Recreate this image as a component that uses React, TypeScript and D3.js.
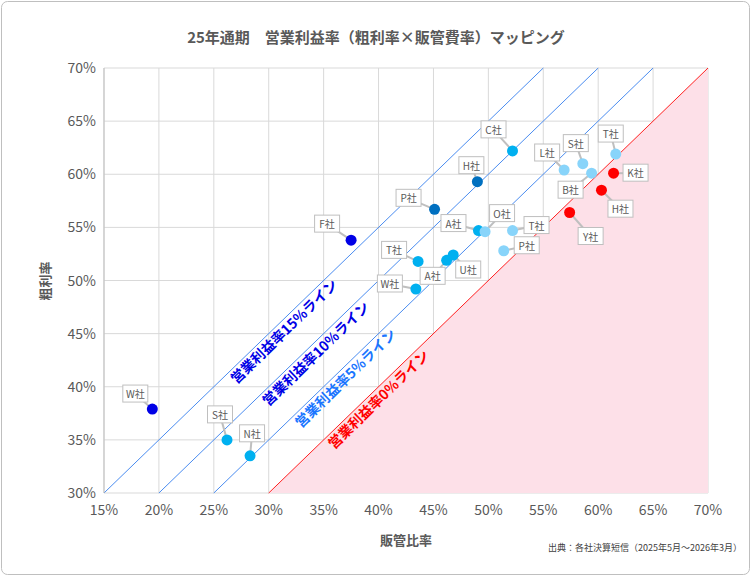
import React from "react";
import * as d3 from "d3";

const names = ["W社","S社","N社","F社","T社","W社","A社","U社","A社","O社","T社","P社","P社","H社","C社","L社","S社","B社","T社","K社","H社","Y社"];
const sga = [19.4,26.2,28.3,37.5,43.6,43.4,46.2,46.8,49.1,49.7,52.2,51.4,45.1,49.0,52.2,56.9,58.6,59.4,61.6,61.4,60.3,57.4];
const gross = [37.9,35.0,33.5,53.8,51.8,49.2,51.9,52.4,54.7,54.6,54.7,52.8,56.7,59.3,62.2,60.4,61.0,60.1,61.9,60.1,58.5,56.4];
const group = [0,2,2,0,2,2,2,2,2,3,3,3,1,1,2,3,3,3,3,4,4,4];
const labelDx = [-17,-7,2,-24,-24,-26,-14,15,-25,17,24,23,-26,-6,-19,-17,-7,-21,-5,22,19,21];
const labelDy = [-15,-25,-22,-16,-11,-5,16,15,-7,-18,-5,-5,-11,-16,-21,-17,-20,17,-20,0,19,24];
const groupColors = ["#0000e6","#0070c0","#00b0f0","#88d4fa","#ff0000"];
const xTicks = [15,20,25,30,35,40,45,50,55,60,65,70];
const yTicks = [30,35,40,45,50,55,60,65,70];
const margins = [15,10,5,0];
const lineColors = ["#4a8cf0","#4a8cf0","#4a8cf0","#ff2020"];
const lineLabels = ["営業利益率15%ライン","営業利益率10%ライン","営業利益率5%ライン","営業利益率0%ライン"];
const lineLabelColors = ["#0000e6","#0000e6","#1a75ff","#ff0000"];
const lineLabelX = [30.8, 33.7, 36.4, 39.4];

export default function App() {
  const x = d3.scaleLinear().domain([15, 70]).range([104, 708]);
  const y = d3.scaleLinear().domain([30, 70]).range([493, 68]);
  const ang = -Math.atan((y(30) - y(31)) / (x(31) - x(30))) * 180 / Math.PI;
  const font = "'Noto Sans CJK JP', 'Noto Sans', sans-serif";
  const pinkPts = [[30,30],[70,70],[70,30]].map(([a,b]) => `${x(a)},${y(b)}`).join(" ");
  return (
    <svg width={752} height={577} style={{ display: "block", position: "absolute", left: 0, top: 0 }} fontFamily={font}>
      <rect x={1.5} y={1.5} width={748} height={573} rx={6} fill="#fff" stroke="#bfbfbf" />
      <text x={376} y={43} textAnchor="middle" fontSize={15} fontWeight="bold" fill="#595959">25年通期　営業利益率（粗利率×販管費率）マッピング</text>
      {xTicks.map(t => <line key={"gx"+t} x1={x(t)} x2={x(t)} y1={y(30)} y2={y(70)} stroke="#d9d9d9" />)}
      {yTicks.map(t => <line key={"gy"+t} x1={x(15)} x2={x(70)} y1={y(t)} y2={y(t)} stroke="#d9d9d9" />)}
      <polygon points={pinkPts} fill="#fde0e8" />
      {xTicks.map(t => <text key={"tx"+t} x={x(t)} y={y(30)+22} textAnchor="middle" fontSize={14} fill="#595959">{t}%</text>)}
      {yTicks.map(t => <text key={"ty"+t} x={x(15)-8} y={y(t)+5} textAnchor="end" fontSize={14} fill="#595959">{t}%</text>)}
      {margins.map((m, i) => (
        <line key={"l"+m} x1={x(15+m < 30 ? 30 - m : 15)} y1={y(15+m < 30 ? 30 : 15+m)} x2={x(70-m)} y2={y(70)} stroke={lineColors[i]} strokeWidth={1} />
      ))}
      {margins.map((m, i) => {
        const lx = lineLabelX[i], ly = lx + m;
        const px = x(lx) + 10, py = y(ly) + 10;
        return <text key={"ll"+m} x={px} y={py} transform={`rotate(${ang},${px},${py})`} textAnchor="middle" fontSize={14} fontWeight="bold" fill={lineLabelColors[i]}>{lineLabels[i]}</text>;
      })}
      {names.map((n, i) => {
        const px = x(sga[i]), py = y(gross[i]);
        const lx = px + labelDx[i], ly = py + labelDy[i];
        return (
          <g key={"p"+i}>
            <line x1={px} y1={py} x2={lx} y2={ly} stroke="#bfbfbf" strokeWidth={2} />
            <circle cx={px} cy={py} r={5.5} fill={groupColors[group[i]]} />
            <rect x={lx-12.5} y={ly-9} width={25} height={17} fill="#fff" stroke="#bfbfbf" />
            <text x={lx} y={ly+4} textAnchor="middle" fontSize={10} fill="#595959">{n}</text>
          </g>
        );
      })}
      <line x1={x(15)} x2={x(15)} y1={y(30)} y2={y(70)} stroke="#bfbfbf" />
      <text x={406} y={545} textAnchor="middle" fontSize={13} fontWeight="bold" fill="#595959">販管比率</text>
      <text transform="translate(50,281) rotate(-90)" textAnchor="middle" fontSize={13} fontWeight="bold" fill="#595959">粗利率</text>
      <text x={742} y={551} textAnchor="end" fontSize={9} fill="#404040">出典：各社決算短信（2025年5月～2026年3月）</text>
    </svg>
  );
}
